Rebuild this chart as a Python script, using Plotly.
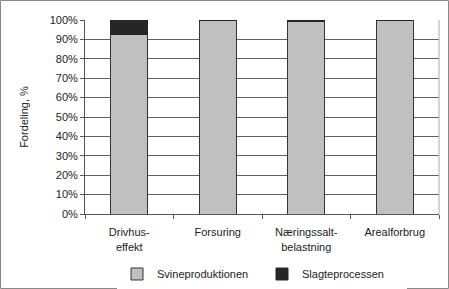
import plotly.graph_objects as go

categories = ["Drivhus-<br>effekt", "Forsuring", "Næringssalt-<br>belastning", "Arealforbrug"]
svine = [92.5, 99.5, 99.3, 100.0]
slagte = [7.5, 0.5, 0.7, 0.0]
y_ticks = [0, 10, 20, 30, 40, 50, 60, 70, 80, 90, 100]
y_labels = [f"{v}%" for v in y_ticks]

fig = go.Figure()
fig.add_trace(go.Bar(x=categories, y=svine, name="Svineproduktionen",
                     marker=dict(color="#C0C0C0", line=dict(color="#333333", width=1))))
fig.add_trace(go.Bar(x=categories, y=slagte, name="Slagteprocessen",
                     marker=dict(color="#262626", line=dict(color="#262626", width=1))))

L, R, T, B = 85, 10, 20, 75
W, H = 449, 289
pw, ph = W - L - R, H - T - B

fig.update_layout(
    barmode="stack", bargap=0.58,
    width=W, height=H,
    margin=dict(l=L, r=R, t=T, b=B, autoexpand=False),
    paper_bgcolor="white", plot_bgcolor="white",
    font=dict(family="Liberation Sans, Arial, sans-serif", size=11, color="#222222"),
    showlegend=True,
    legend=dict(orientation="h", x=0.5, xanchor="center", y=-(274 - 214) / ph, yanchor="middle",
                font=dict(size=11), itemwidth=30, traceorder="normal",
                entrywidth=100, entrywidthmode="pixels"),
    xaxis=dict(showline=True, linecolor="#555555", ticks="outside", tickson="boundaries",
               ticklen=4, tickcolor="#555555", showgrid=False, mirror=False,
               ticklabelstandoff=8),
    yaxis=dict(range=[0, 100], tickvals=y_ticks, ticktext=y_labels, showline=True,
               linecolor="#555555", ticks="outside", ticklen=4, tickcolor="#555555",
               showgrid=True, gridcolor="#606060", gridwidth=1,
               title=dict(text="Fordeling, %", standoff=18, font=dict(size=11))),
    shapes=[
        dict(type="line", xref="paper", yref="paper", x0=1, x1=1, y0=0, y1=1,
             line=dict(color="#AAAAAA", width=1)),
        dict(type="rect", xref="paper", yref="paper",
             x0=-(L - 0.5) / pw, x1=1 + (R - 0.5) / pw,
             y0=-(B - 0.5) / ph, y1=1 + (T - 0.5) / ph,
             line=dict(color="#888888", width=1)),
    ],
)

fig.write_html("out.html")
